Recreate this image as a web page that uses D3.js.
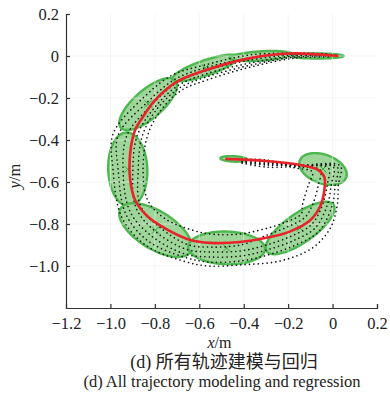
<!DOCTYPE html>
<html>
<head>
<meta charset="utf-8">
<script src="https://cdn.jsdelivr.net/npm/d3@7"></script>
<style>
  body { margin: 0; background: #fff; }
  svg { display: block; }
</style>
</head>
<body>
<div id="vis"></div>
<script>
var width = 390;
var height = 396;

// tick values
var xTicks = [-1.2, -1.0, -0.8, -0.6, -0.4, -0.2, 0, 0.2];
var yTicks = [-1.0, -0.8, -0.6, -0.4, -0.2, 0, 0.2];

// regression curve (red)
var regression = [
  [-0.483, -0.490], [-0.300, -0.500], [-0.145, -0.519], [-0.064, -0.543],
  [-0.037, -0.576], [-0.037, -0.638], [-0.055, -0.714], [-0.105, -0.786],
  [-0.190, -0.835], [-0.270, -0.860], [-0.416, -0.886], [-0.551, -0.890],
  [-0.641, -0.876], [-0.740, -0.829], [-0.830, -0.767], [-0.889, -0.686],
  [-0.911, -0.590], [-0.911, -0.462], [-0.889, -0.352], [-0.857, -0.295],
  [-0.799, -0.210], [-0.704, -0.124], [-0.596, -0.076], [-0.371, -0.010],
  [-0.191, 0.012], [0.026, 0.000]
];

// demonstration trajectories (black dotted)
var traj1 = [
  [-0.407, -0.502], [-0.299, -0.510], [-0.145, -0.519], [0.035, -0.524],
  [0.026, -0.614], [0.021, -0.710], [-0.010, -0.819], [-0.091, -0.914],
  [-0.236, -0.976], [-0.405, -0.994], [-0.561, -1.000], [-0.676, -0.975],
  [-0.843, -0.900], [-0.950, -0.765], [-0.988, -0.543], [-0.988, -0.371],
  [-0.853, -0.200], [-0.720, -0.090], [-0.579, -0.044], [-0.372, 0.005],
  [-0.168, 0.014], [-0.010, 0.010]
];
var traj2 = [
  [-0.407, -0.505], [-0.299, -0.514], [-0.145, -0.524], [0.021, -0.529],
  [0.012, -0.614], [-0.001, -0.710], [-0.062, -0.836], [-0.160, -0.897],
  [-0.284, -0.945], [-0.407, -0.975], [-0.559, -0.981], [-0.669, -0.957],
  [-0.830, -0.881], [-0.931, -0.752], [-0.965, -0.543], [-0.965, -0.376],
  [-0.834, -0.220], [-0.710, -0.111], [-0.576, -0.057], [-0.371, -0.010],
  [-0.168, 0.010], [0.003, 0.005]
];
var traj3 = [
  [-0.407, -0.507], [-0.299, -0.519], [-0.145, -0.524], [0.003, -0.529],
  [-0.006, -0.614], [-0.024, -0.710], [-0.078, -0.819], [-0.170, -0.876],
  [-0.290, -0.922], [-0.409, -0.952], [-0.557, -0.957], [-0.664, -0.943],
  [-0.814, -0.858], [-0.912, -0.740], [-0.943, -0.543], [-0.925, -0.376],
  [-0.818, -0.237], [-0.702, -0.128], [-0.572, -0.071], [-0.370, -0.019],
  [-0.168, 0.005], [0.017, 0.005]
];
var traj4 = [
  [-0.407, -0.498], [-0.299, -0.505], [-0.145, -0.524], [-0.019, -0.533],
  [-0.024, -0.614], [-0.046, -0.710], [-0.094, -0.802], [-0.180, -0.855],
  [-0.295, -0.899], [-0.412, -0.928], [-0.555, -0.933], [-0.657, -0.921],
  [-0.798, -0.835], [-0.885, -0.722], [-0.899, -0.543], [-0.880, -0.381],
  [-0.805, -0.250], [-0.696, -0.141], [-0.569, -0.085], [-0.368, -0.033],
  [-0.168, 0.000], [-0.006, 0.000]
];
var traj5 = [
  [-0.407, -0.510], [-0.299, -0.529], [-0.145, -0.529], [-0.055, -0.543],
  [-0.064, -0.614], [-0.091, -0.710], [-0.125, -0.769], [-0.200, -0.812],
  [-0.305, -0.857], [-0.414, -0.900], [-0.553, -0.910], [-0.649, -0.899],
  [-0.782, -0.812], [-0.866, -0.710], [-0.875, -0.543], [-0.858, -0.386],
  [-0.796, -0.260], [-0.690, -0.153], [-0.565, -0.099], [-0.367, -0.043],
  [-0.168, -0.005], [0.008, 0.000]
];
var traj6 = [
  [-0.407, -0.493], [-0.299, -0.495], [-0.168, -0.533], [-0.091, -0.552],
  [-0.109, -0.614], [-0.136, -0.710], [-0.141, -0.752], [-0.211, -0.791],
  [-0.313, -0.825], [-0.419, -0.848], [-0.547, -0.848], [-0.625, -0.831],
  [-0.755, -0.774], [-0.832, -0.687], [-0.853, -0.543], [-0.835, -0.386],
  [-0.783, -0.273], [-0.684, -0.166], [-0.562, -0.113], [-0.367, -0.052],
  [-0.168, -0.010], [-0.019, -0.005]
];
var trajectories = [traj1, traj2, traj3, traj4, traj5, traj6];

// gaussian components: centre x, centre y, semi axes a/b, angle in degrees
var compX = [-0.830, -0.573, -0.325, -0.070, -0.922, -0.797, -0.477, -0.146, -0.043, -0.445];
var compY = [-0.229, -0.057, 0.000, 0.000, -0.540, -0.829, -0.914, -0.819, -0.538, -0.490];
var compA = [0.167, 0.157, 0.140, 0.120, 0.176, 0.188, 0.173, 0.187, 0.112, 0.060];
var compB = [0.066, 0.036, 0.022, 0.012, 0.088, 0.088, 0.078, 0.068, 0.068, 0.013];
var compAngle = [43, 20, 4, 0, 92, -34, -2, 37, -22, -3];

var margin = {left: 66, top: 14, right: 13, bottom: 88};
var plotW = width - margin.left - margin.right;
var plotH = height - margin.top - margin.bottom;

var serif = '"Liberation Serif", "Times New Roman", serif';
var cjk = '"Liberation Serif", "Noto Sans CJK SC", serif';

var svg = d3.select('#vis')
  .append('svg')
    .attr('width', width)
    .attr('height', height);

var g = svg.append('g')
  .attr('transform', 'translate(' + margin.left + ',' + margin.top + ')');

var x_scale = d3.scaleLinear()
  .domain([-1.2, 0.2])
  .range([0, plotW]);

var y_scale = d3.scaleLinear()
  .domain([-1.2, 0.2])
  .range([plotH, 0]);

var line = d3.line()
  .x(function(d){ return x_scale(d[0]); })
  .y(function(d){ return y_scale(d[1]); })
  .curve(d3.curveLinearClosed);

// ellipses
var comps = compX.map(function(cx, i){
  return {cx: cx, cy: compY[i], a: compA[i], b: compB[i], ang: compAngle[i] * Math.PI / 180};
});

function ellipsePoints(c)
{
  var pts = [];
  for(var k = 0; k < 90; k++) {
    var t = k / 90 * 2 * Math.PI;
    var ex = c.a * Math.cos(t), ey = c.b * Math.sin(t);
    pts.push([c.cx + ex * Math.cos(c.ang) - ey * Math.sin(c.ang),
              c.cy + ex * Math.sin(c.ang) + ey * Math.cos(c.ang)]);
  }
  return pts;
}

g.selectAll('.ell')
  .data(comps)
  .enter()
  .append('path')
    .attr('class', 'ell')
    .attr('d', function(d){ return line(ellipsePoints(d)); })
    .attr('fill', '#9dd698')
    .attr('stroke', '#4cb84f')
    .attr('stroke-width', 2.4);

// faint grid
g.selectAll('.gx')
  .data(xTicks.slice(1, -1))
  .enter()
  .append('line')
    .attr('x1', function(d){ return x_scale(d); })
    .attr('x2', function(d){ return x_scale(d); })
    .attr('y1', 0)
    .attr('y2', plotH)
    .attr('stroke', '#ececec')
    .attr('stroke-width', 0.6);

g.selectAll('.gy')
  .data(yTicks.slice(0, -1))
  .enter()
  .append('line')
    .attr('x1', 0)
    .attr('x2', plotW)
    .attr('y1', function(d){ return y_scale(d); })
    .attr('y2', function(d){ return y_scale(d); })
    .attr('stroke', '#ececec')
    .attr('stroke-width', 0.6);

// centre markers
g.selectAll('.cm')
  .data(comps.filter(function(d){ return d.b > 0.03; }))
  .enter()
  .append('path')
    .attr('d', function(d){
      var px = x_scale(d.cx), py = y_scale(d.cy), s = 3.5;
      return 'M' + (px - s) + ',' + (py - s) + 'L' + (px + s) + ',' + (py + s) +
             'M' + (px - s) + ',' + (py + s) + 'L' + (px + s) + ',' + (py - s);
    })
    .attr('stroke', '#3aa63f')
    .attr('stroke-width', 1);

// trajectories
var trajLine = d3.line()
  .x(function(d){ return x_scale(d[0]); })
  .y(function(d){ return y_scale(d[1]); })
  .curve(d3.curveCatmullRom.alpha(0.5));

g.selectAll('.traj')
  .data(trajectories)
  .enter()
  .append('path')
    .attr('d', trajLine)
    .attr('fill', 'none')
    .attr('stroke', '#111')
    .attr('stroke-width', 1.6)
    .attr('stroke-linecap', 'round')
    .attr('stroke-dasharray', '0.1,4.3');

// regression
g.append('path')
  .datum(regression)
  .attr('d', trajLine)
  .attr('fill', 'none')
  .attr('stroke', '#e8232a')
  .attr('stroke-width', 2.6);

// axes
var fmt = function(d){ return Math.abs(d) < 1e-9 ? '0' : d3.format('.1f')(d); };

var xAxis = g.append('g')
  .attr('transform', 'translate(0,' + plotH + ')')
  .call(d3.axisBottom(x_scale).tickValues(xTicks).tickSize(-4).tickPadding(9).tickFormat(fmt));

var yAxis = g.append('g')
  .call(d3.axisLeft(y_scale).tickValues(yTicks).tickSize(-4).tickPadding(7).tickFormat(fmt));

[xAxis, yAxis].forEach(function(ax){
  ax.attr('font-family', null).attr('font-size', null);
  ax.select('.domain').attr('stroke', '#333').attr('stroke-width', 1.2);
  ax.selectAll('.tick line').attr('stroke', '#333').attr('stroke-width', 1.2);
  ax.selectAll('.tick text')
    .attr('fill', '#222')
    .style('font-family', serif)
    .style('font-size', '16.5px');
});
xAxis.selectAll('.tick').filter(function(d){ return d === -1.2; }).select('line').remove();

// axis titles
svg.append('text')
  .attr('x', margin.left + plotW / 2 - 2)
  .attr('y', 348)
  .attr('text-anchor', 'middle')
  .style('font-family', serif)
  .style('font-size', '16px')
  .attr('fill', '#222')
  .html('<tspan font-style="italic">x</tspan>/m');

svg.append('text')
  .attr('transform', 'translate(20,176) rotate(-90)')
  .attr('text-anchor', 'middle')
  .style('font-family', serif)
  .style('font-size', '16.5px')
  .attr('fill', '#222')
  .html('<tspan font-style="italic">y</tspan>/m');

// captions
svg.append('text')
  .attr('x', 224)
  .attr('y', 368)
  .attr('text-anchor', 'middle')
  .style('font-family', cjk)
  .style('font-size', '18px')
  .attr('fill', '#222')
  .text('(d) 所有轨迹建模与回归');

svg.append('text')
  .attr('x', 222)
  .attr('y', 387)
  .attr('text-anchor', 'middle')
  .style('font-family', serif)
  .style('font-size', '16.5px')
  .attr('fill', '#222')
  .text('(d) All trajectory modeling and regression');
</script>
</body>
</html>
